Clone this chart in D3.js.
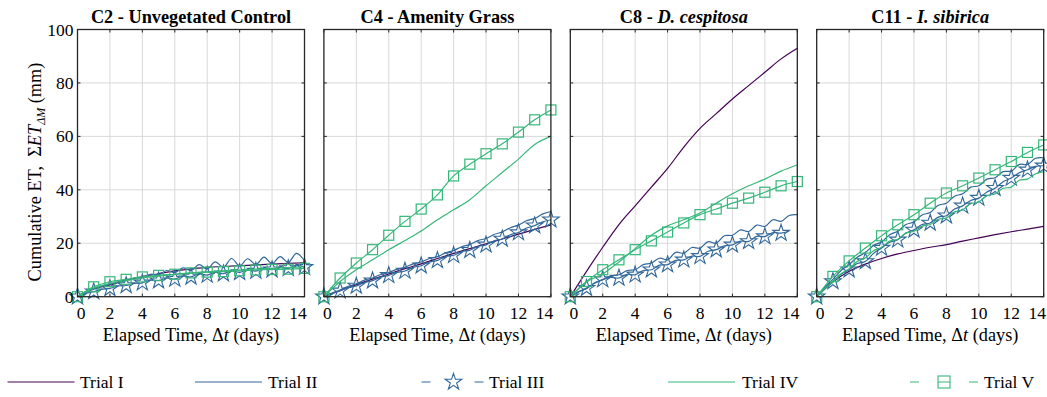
<!DOCTYPE html>
<html><head><meta charset="utf-8">
<script src="https://cdn.jsdelivr.net/npm/d3@7"></script>
<style>
body{margin:0;background:#fff}
svg{display:block}
</style>
</head><body>
<svg id="chart" width="1047" height="397" font-family="'Liberation Serif', 'Times New Roman', Times, 'DejaVu Serif', serif"></svg>
<script>
// ---------------- DATA ----------------
const panelTitles = ["C2 - ", "C4 - ", "C8 - ", "C11 - "];
const panelSubtitles = ["Unvegetated Control", "Amenity Grass", "D. cespitosa", "I. sibirica"];
const subtitleItalic = [false, false, true, true];
const trialNames = ["Trial I", "Trial II", "Trial III", "Trial IV", "Trial V"];
const xTicks = [0, 2, 4, 6, 8, 10, 12, 14];
const yTicks = [0, 20, 40, 60, 80, 100];

const days = [0,1,2,3,4,5,6,7,8,9,10,11,12,13,14];
const halfDays = [0,0.5,1,1.5,2,2.5,3,3.5,4,4.5,5,5.5,6,6.5,7,7.5,8,8.5,9,9.5,10,10.5,11,11.5,12,12.5,13,13.5,14];

// C2 - Unvegetated Control
const c2_I   = [0,3.0,4.4,6.2,7.5,8.6,9.7,10.4,11.0,11.3,11.6,11.9,12.2,12.5,12.7];
const c2_II  = [0,1.8,2.8,3.9,4.6,5.6,6.0,7.0,7.2,8.4,8.2,9.8,9.0,10.8,9.8,12.0,10.4,13.0,11.0,14.3,11.6,14.2,12.0,14.8,12.4,15.0,12.8,16.2,13.5];
const c2_III = [0,1.2,1.9,2.8,3.1,4.0,4.2,5.0,5.2,6.2,6.0,7.0,6.6,7.8,7.4,8.6,8.1,9.2,8.6,9.8,9.1,10.2,9.6,10.8,10.1,11.2,10.6,11.8,11.0];
const c2_IV  = [0,3.2,5.0,6.0,7.0,7.7,8.3,8.8,9.3,9.7,10.0,10.3,10.6,10.9,11.2];
const c2_V   = [0,3.7,5.6,6.5,7.4,8.0,8.4,8.9,9.2,9.4,9.7,10.0,10.2,10.3,10.6];

// C4 - Amenity Grass
const c4_I   = [0,2.3,4.5,6.6,8.5,10.5,12.3,14.3,16.2,18.0,19.8,21.6,23.4,25.2,26.9];
const c4_II  = [0,1.4,2.5,3.9,4.8,6.2,7.0,8.3,9.0,10.3,11.0,12.3,13.0,14.3,15.0,16.4,17.3,18.7,19.5,21.0,21.8,23.3,24.2,25.8,26.8,28.4,29.3,31.0,31.9];
const c4_III = [0,1.2,2.2,3.4,4.0,5.3,6.0,7.3,8.0,9.1,9.6,11.0,11.6,13.0,13.6,15.0,15.5,16.9,17.4,18.8,19.4,20.9,21.6,23.2,24.0,25.7,26.6,28.0,28.8];
const c4_IV  = [0,5.7,10.1,13.8,17.6,21.0,24.6,28.8,32.5,36.3,41.5,46.5,51.5,57.0,60.0];
const c4_V   = [0,7.0,12.6,17.6,23.0,28.2,32.8,38.1,45.2,49.6,53.5,57.2,61.6,66.2,69.9];

// C8 - D. cespitosa
const c8_I   = [0,9.5,18.5,27.0,34.0,41.0,48.0,56.0,63.0,68.5,74.0,79.0,84.0,89.0,93.0];
const c8_II  = [0,1.8,3.0,5.2,6.4,7.8,8.2,9.8,10.1,12.0,12.6,14.4,13.8,16.6,16.3,18.4,18.2,20.6,20.0,22.8,23.0,25.0,24.4,26.8,26.3,28.8,28.2,30.4,30.7];
const c8_III = [0,1.8,3.2,5.0,6.4,7.2,7.0,8.4,8.2,9.8,10.1,11.8,12.0,13.6,13.8,15.2,15.1,17.0,17.6,19.0,19.4,20.8,20.7,22.6,22.5,24.0,23.8,24.6,null];
const c8_IV  = [0,5.5,8.5,13.0,18.0,23.0,26.5,28.8,31.3,35.0,38.5,41.5,44.0,47.0,49.3];
const c8_V   = [0,5.7,10.1,13.8,17.6,20.9,24.2,27.6,30.7,32.8,35.0,36.9,39.1,41.5,43.1];

// C11 - I. sibirica
const c11_I   = [0,5.5,9.5,12.2,14.3,16.0,17.3,18.5,19.5,20.8,22.0,23.2,24.3,25.3,26.3];
const c11_II  = [0,3.6,6.5,9.8,12.0,14.8,16.5,19.2,20.5,23.2,24.5,27.0,28.0,30.6,31.5,34.2,35.0,37.6,38.5,41.0,41.5,44.0,44.5,46.8,47.0,49.5,49.5,51.8,52.0];
const c11_III = [0,3.2,5.7,8.4,10.1,12.4,13.2,16.2,18.2,20.4,21.3,23.8,25.0,27.0,27.6,29.8,30.3,32.8,34.0,36.0,36.9,39.2,40.6,43.0,44.4,46.4,47.5,48.8,49.0];
const c11_IV  = [0,3.0,5.5,8.6,10.5,13.2,14.5,17.2,18.5,20.8,21.5,23.8,24.5,26.4,27.0,29.0,29.5,31.8,32.5,34.8,35.5,37.8,38.5,40.6,41.0,43.6,44.0,46.0,46.8];
const c11_V   = [0,7.6,13.4,18.2,22.8,26.9,30.7,35.0,38.8,41.5,44.4,47.5,50.6,54.0,56.8];

// ---------------- STYLE ----------------
const colors = ["#440154", "#31679a", "#31679a", "#35b779", "#35b779"];
const markers = [null, null, "star", null, "square"];

const panelData = [
  [[days,c2_I],[halfDays,c2_II],[halfDays,c2_III],[days,c2_IV],[days,c2_V]],
  [[days,c4_I],[halfDays,c4_II],[halfDays,c4_III],[days,c4_IV],[days,c4_V]],
  [[days,c8_I],[halfDays,c8_II],[halfDays,c8_III],[days,c8_IV],[days,c8_V]],
  [[days,c11_I],[halfDays,c11_II],[halfDays,c11_III],[halfDays,c11_IV],[days,c11_V]]
];

const svg = d3.select("#chart");
const plotTop = 29.5, plotBottom = 296.7, pw = 227;
const lefts = [77.5, 323.9, 570.3, 816.7];
const y = d3.scaleLinear().domain([0,100]).range([plotBottom, plotTop]);
const starSym = d3.symbol().type(d3.symbolStar).size(85);
const legStarSym = d3.symbol().type(d3.symbolStar).size(85);

lefts.forEach((L, pi) => {
  const x = d3.scaleLinear().domain([0,14]).range([L, L+pw]);
  const g = svg.append("g");
  // grid
  g.selectAll(".gx").data(xTicks.filter(t=>t>0&&t<14)).enter().append("line")
    .attr("x1",d=>x(d)).attr("x2",d=>x(d)).attr("y1",plotTop).attr("y2",plotBottom)
    .attr("stroke","#d9d9d9").attr("stroke-width",1);
  g.selectAll(".gy").data(yTicks.filter(t=>t>0&&t<100)).enter().append("line")
    .attr("x1",L).attr("x2",L+pw).attr("y1",d=>y(d)).attr("y2",d=>y(d))
    .attr("stroke","#d9d9d9").attr("stroke-width",1);

  // series
  panelData[pi].forEach((s, si) => {
    const [tArr, vArr] = s;
    const pts = tArr.map((t,i)=>[t, vArr[i]]);
    const curve = tArr.length > 15 ? d3.curveCatmullRom.alpha(0.5) : d3.curveMonotoneX;
    const line = d3.line().defined(d=>d[1]!=null).x(d=>x(d[0])).y(d=>y(d[1])).curve(curve);
    g.append("path").attr("d", line(pts)).attr("fill","none")
      .attr("stroke", colors[si]).attr("stroke-width", 1.2);
    const mk = markers[si];
    if (mk) {
      const mpts = pts.filter(d => d[1]!=null && Number.isInteger(d[0]));
      if (mk === "star") {
        g.selectAll(null).data(mpts).enter().append("path")
          .attr("d", starSym()).attr("transform", d=>`translate(${x(d[0])},${y(d[1])})`)
          .attr("fill","none").attr("stroke", colors[si]).attr("stroke-width",1.1);
      } else {
        g.selectAll(null).data(mpts).enter().append("rect")
          .attr("x", d=>x(d[0])-5).attr("y", d=>y(d[1])-5).attr("width",10).attr("height",10)
          .attr("fill","none").attr("stroke", colors[si]).attr("stroke-width",1.2);
      }
    }
  });

  // frame
  g.append("rect").attr("x",L).attr("y",plotTop).attr("width",pw).attr("height",plotBottom-plotTop)
    .attr("fill","none").attr("stroke","#262626").attr("stroke-width",1.3);
  // inward ticks
  const tl = 3;
  xTicks.forEach(t => {
    g.append("line").attr("x1",x(t)).attr("x2",x(t)).attr("y1",plotBottom).attr("y2",plotBottom-tl).attr("stroke","#262626");
    g.append("line").attr("x1",x(t)).attr("x2",x(t)).attr("y1",plotTop).attr("y2",plotTop+tl).attr("stroke","#262626");
  });
  yTicks.forEach(t => {
    g.append("line").attr("x1",L).attr("x2",L+tl).attr("y1",y(t)).attr("y2",y(t)).attr("stroke","#262626");
    g.append("line").attr("x1",L+pw).attr("x2",L+pw-tl).attr("y1",y(t)).attr("y2",y(t)).attr("stroke","#262626");
  });
  // x tick labels
  g.selectAll(null).data(xTicks).enter().append("text")
    .attr("x", d => x(d) + (d===0 ? 3.5 : d===14 ? -6.5 : 0))
    .attr("y", 318.5).attr("text-anchor","middle").attr("font-size",17.5).text(d=>d);
  // x label
  const xl = g.append("text").attr("x", L+pw/2).attr("y", 340.5).attr("text-anchor","middle").attr("font-size",18.3);
  xl.append("tspan").text("Elapsed Time, \u0394");
  xl.append("tspan").attr("font-style","italic").text("t");
  xl.append("tspan").text(" (days)");
  // title
  const tt = g.append("text").attr("x", L+pw/2).attr("y", 23).attr("text-anchor","middle")
    .attr("font-size",18.3).attr("font-weight","bold");
  tt.append("tspan").text(panelTitles[pi]);
  tt.append("tspan").attr("font-style", subtitleItalic[pi] ? "italic" : "normal").text(panelSubtitles[pi]);

  if (pi === 0) {
    g.selectAll(null).data(yTicks).enter().append("text")
      .attr("x", L-4).attr("y", d=>y(d)+6).attr("text-anchor","end").attr("font-size",17.5).text(d=>d);
    const yl = svg.append("text").attr("transform",`translate(41,172) rotate(-90)`)
      .attr("text-anchor","middle").attr("font-size",18.3);
    yl.append("tspan").text("Cumulative ET,\u2002\u03A3");
    yl.append("tspan").attr("font-style","italic").text("ET");
    yl.append("tspan").attr("font-style","italic").attr("font-size",12).attr("dy",4).text("\u0394M");
    yl.append("tspan").attr("dy",-4).text(" (mm)");
  }
});

// ---------------- LEGEND ----------------
const legY = 382;
const legItems = [
  {x0:7.5, x1:74.5, tx:80},
  {x0:195, x1:262, tx:268},
  {x0:421.5, x1:483.5, tx:489},
  {x0:668, x1:735, tx:742},
  {x0:910, x1:978, tx:984}
];
legItems.forEach((it, i) => {
  const c = colors[i];
  if (markers[i]) {
    const mid = (it.x0 + it.x1)/2;
    svg.append("line").attr("x1",it.x0).attr("x2",it.x0+9).attr("y1",legY).attr("y2",legY).attr("stroke",c).attr("stroke-width",1);
    svg.append("line").attr("x1",it.x1-9).attr("x2",it.x1).attr("y1",legY).attr("y2",legY).attr("stroke",c).attr("stroke-width",1);
    if (markers[i] === "star") {
      svg.append("path").attr("d", legStarSym()).attr("transform",`translate(${mid+1},${legY})`)
        .attr("fill","none").attr("stroke",c).attr("stroke-width",1.1);
    } else {
      svg.append("rect").attr("x",mid-6).attr("y",legY-6).attr("width",12).attr("height",12)
        .attr("fill","none").attr("stroke",c).attr("stroke-width",1.1);
      svg.append("line").attr("x1",mid-6).attr("x2",mid+6).attr("y1",legY).attr("y2",legY).attr("stroke",c).attr("stroke-width",1);
    }
  } else {
    svg.append("line").attr("x1",it.x0).attr("x2",it.x1).attr("y1",legY).attr("y2",legY).attr("stroke",c).attr("stroke-width",1);
  }
  svg.append("text").attr("x",it.tx).attr("y",legY+6).attr("font-size",17.5).text(trialNames[i]);
});
</script>
</body></html>
